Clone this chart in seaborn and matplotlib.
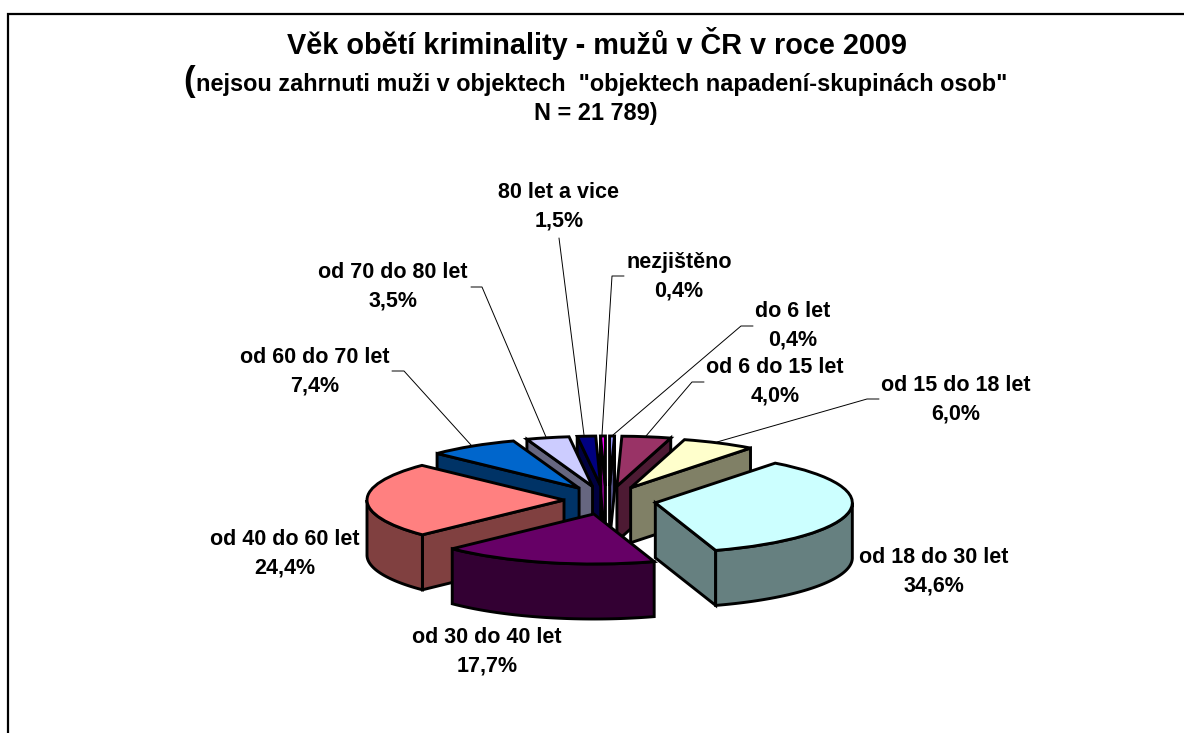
import numpy as np
import matplotlib
matplotlib.use("Agg")
import matplotlib.pyplot as plt
from matplotlib.transforms import Affine2D
import seaborn as sns

categories = ["do 6 let", "od 6 do 15 let", "od 15 do 18 let", "od 18 do 30 let",
              "od 30 do 40 let", "od 40 do 60 let", "od 60 do 70 let",
              "od 70 do 80 let", "80 let a vice", "nezjištěno"]
shares = [0.4, 4.0, 6.0, 34.6, 17.7, 24.4, 7.4, 3.5, 1.5, 0.4]
top_colors = ["#9999FF", "#993366", "#FFFFCC", "#CCFFFF", "#660066",
              "#FF8080", "#0066CC", "#CCCCFF", "#000080", "#FF00FF"]

title = "Věk obětí kriminality - mužů v ČR v roce 2009"
sub1 = 'nejsou zahrnuti muži v objektech  "objektech napadení-skupinách osob"'
sub2 = "N = 21 789)"

# layout, in reference pixels
W, H = 1184, 733
CX, CY, RX, RY = 610, 499, 197, 50
EX, EY, DEPTH = 46, 16.5, 55
EDGE = 2.1
nudge_x = [-1, 0, 0, 0, -5, 0, -6, -7, -6, -4]
nudge_y = [3.5, 3.5, 3.5, 1, -1, 1, 3, 3.5, 3.5, 3.5]
label_centres = [(793, 326), (775, 382), (956, 400), (934, 572), (487, 652),
                 (285, 554), (315, 372), (393, 287), (559, 207), (679, 277)]
leaders = [[(753, 326), (741, 326), (613, 435)],
           [(704, 382), (692, 382), (646, 436)],
           [(879, 399), (867, 399), (717, 442)],
           None, None, None,
           [(392, 371), (404, 371), (471, 445)],
           [(471, 287), (482, 287), (546, 437)],
           [(559, 238), (584, 435)],
           [(624, 276), (612, 276), (602, 435)]]

sns.set_theme(style="white")
plt.rcParams["font.family"] = ["Liberation Sans", "DejaVu Sans"]
palette = sns.color_palette(top_colors)

fig = plt.figure(figsize=(W / 100, H / 100), dpi=100, facecolor="white")
ax = fig.add_axes([0, 0, 1, 1])
wedges, _ = ax.pie(shares, colors=palette, startangle=90, counterclock=False,
                   wedgeprops=dict(edgecolor="black", linewidth=EDGE, joinstyle="miter"))
ax.set_aspect("auto")
ax.set_xlim((0 - CX) / RX, (W - CX) / RX)
ax.set_ylim((CY - H) / RY, CY / RY)
ax.axis("off")

vals = np.array(shares, dtype=float)
ends = np.cumsum(vals) / vals.sum() * 360
starts = np.r_[0, ends[:-1]]
mids = (starts + ends) / 2
order = np.argsort(-np.abs(180 - mids))
d = DEPTH / RY


def rim(angle):
    r = np.radians(angle)
    return np.sin(r), np.cos(r)


def wall(xs, ys, colour, z):
    xs = np.asarray(xs)
    ys = np.asarray(ys)
    ax.fill(np.r_[xs, xs[::-1]], np.r_[ys, ys[::-1] - d], facecolor=colour,
            edgecolor="black", linewidth=EDGE, joinstyle="miter", zorder=z)


for rank, i in enumerate(order):
    a1, a2 = starts[i], ends[i]
    sx, sy = rim(mids[i])
    ox = (sx * EX + nudge_x[i]) / RX
    oy = (sy * EY - nudge_y[i]) / RY
    wedges[i].set_center((ox, oy))
    wedges[i].set_zorder(10 + rank + 0.5)
    dark = tuple(c * 0.5 for c in palette[i])
    if np.sin(np.radians(a1)) < 0:
        x, y = rim(a1)
        wall([ox, ox + x], [oy, oy + y], dark, 10 + rank)
    if np.sin(np.radians(a2)) > 0:
        x, y = rim(a2)
        wall([ox, ox + x], [oy, oy + y], dark, 10 + rank)
    lo, hi = max(a1, 90), min(a2, 270)
    if hi > lo:
        t = np.linspace(lo, hi, 80)
        x, y = rim(t)
        wall(ox + x, oy + y, dark, 10 + rank)

px = Affine2D().scale(1, -1).translate(0, H)

# outer frame: only the left and top edges are visible
ax.plot([7.5, 7.5, W], [H, 13.5, 13.5], color="black", lw=1.6, transform=px,
        clip_on=False, solid_joinstyle="miter", zorder=1)

for name, v, (tx, ty), leader in zip(categories, shares, label_centres, leaders):
    pct = f"{v:.1f}%".replace(".", ",")
    ax.text(tx, ty, f"{name}\n{pct}", transform=px, ha="center", va="center",
            fontsize=15.5, fontweight="bold", color="black", linespacing=1.47, zorder=40)
    if leader:
        lx, ly = zip(*leader)
        ax.plot(lx, ly, color="black", lw=0.7, transform=px, zorder=5)

ax.text(597, 43, title, transform=px, ha="center", va="center", fontsize=20.8,
        fontweight="bold", color="black")
ax.text(602, 90.5, sub1, transform=px, ha="center", va="baseline", fontsize=16.9,
        fontweight="bold", color="black")
ax.text(189.5, 90.5, "(", transform=px, ha="center", va="baseline", fontsize=25,
        fontweight="bold", color="black")
ax.text(596, 120, sub2, transform=px, ha="center", va="baseline", fontsize=16.9,
        fontweight="bold", color="black")

fig.savefig("out.png", dpi=100, facecolor="white")
